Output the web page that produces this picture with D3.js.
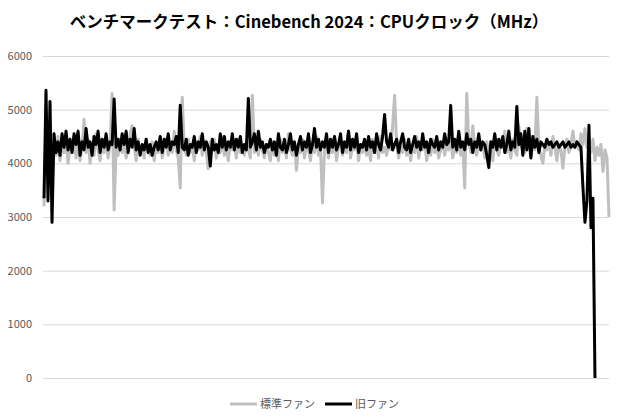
<!DOCTYPE html>
<html>
<head>
<meta charset="utf-8">
<script src="https://cdn.jsdelivr.net/npm/d3@7"></script>
<style>
  body { margin: 0; background: #fff; }
  svg { display: block; }
</style>
</head>
<body>
<svg id="chart" width="620" height="420"></svg>
<script>
// chart values
const title = "ベンチマークテスト：Cinebench 2024：CPUクロック（MHz）";
const seriesNames = ["標準ファン", "旧ファン"];
const seriesColors = ["#bfbfbf", "#000000"];
const yTicks = [0, 1000, 2000, 3000, 4000, 5000, 6000];

// 標準ファン (283 samples)
const standardFan = [
  3200, 4600, 4100, 4400, 4000, 4300, 4150, 4500, 4050, 4350, 4200, 4450, 4000, 4300, 4250, 4500, 4100, 4400, 4050, 4300,
  4820, 4200, 4450, 4000, 4350, 4150, 4550, 4250, 4050, 4400, 4200, 4500, 4100, 4350, 5300, 3130, 4300, 4150, 4450, 4200,
  4400, 4100, 4250, 4550, 4700, 4350, 4050, 4450, 4200, 4300, 4100, 4450, 4250, 4150, 4400, 4050, 4350, 4200, 4500, 4100,
  4300, 4450, 4150, 4350, 4200, 4600, 4250, 4100, 3540, 5230, 4300, 4150, 4450, 4200, 4350, 4050, 4400, 4250, 4500, 4150,
  4350, 4200, 3900, 4400, 4250, 4450, 4100, 4350, 4200, 4500, 4150, 4300, 4050, 4400, 4250, 4350, 4100, 4450, 4200, 4300,
  4150, 4400, 4250, 4100, 5270, 4200, 4350, 4150, 4450, 4250, 4100, 4350, 4200, 4050, 4400, 4150, 4300, 4050, 4450, 4200,
  4350, 4100, 4550, 4250, 4150, 4400, 3870, 4300, 4200, 4450, 4100, 4350, 4250, 4050, 4400, 4200, 4500, 4150, 4300, 3260,
  4250, 4400, 4100, 4350, 4200, 4500, 4050, 4300, 4450, 4150, 4350, 4200, 4600, 4100, 4300, 4250, 4450, 4050, 4350, 4200,
  4400, 4150, 4300, 4050, 4450, 4250, 4350, 4100, 4500, 4200, 4300, 4150, 4400, 4250, 4700, 5270, 4350, 4100, 4300, 4200,
  4450, 4150, 4350, 4050, 4300, 4200, 4500, 4100, 4350, 4250, 4400, 4050, 4300, 4150, 4450, 4200, 4350, 4100, 4250, 4400,
  4150, 4350, 4250, 4500, 4100, 4300, 4200, 4450, 4150, 4350, 3540, 5300, 4400, 4200, 4700, 4300, 4150, 4450, 4250, 4350,
  4100, 4400, 4200, 4350, 4050, 4450, 4250, 4150, 4400, 4300, 4600, 4200, 4350, 4100, 4450, 4250, 4150, 4700, 4300, 4450,
  4200, 4650, 4350, 4100, 4400, 4250, 5230, 4300, 4150, 4000, 4350, 4250, 4400, 4150, 4500, 4300, 4050, 4350, 4250, 3910,
  4300, 4450, 4200, 4350, 4600, 4300, 4400, 4250, 4550, 4350, 4650, 4300, 4500, 4200, 4450, 4050, 4300, 4150, 4350, 3850,
  4250, 4100, 3000
];

// 旧ファン (276 samples, last one falls to 0)
const oldFan = [
  3350, 5360, 3300, 5150, 2900, 4550, 4200, 4400, 4150, 4550, 4300, 4600, 4250, 4450, 4200, 4550, 4350, 4600, 4150, 4400,
  4250, 4650, 4300, 4400, 4150, 4500, 4350, 4600, 4200, 4450, 4300, 4550, 4250, 4400, 4350, 5200, 4300, 4450, 4250, 4550,
  4350, 4600, 4200, 4450, 4300, 4650, 4250, 4400, 4150, 4350, 4250, 4450, 4200, 4350, 4150, 4300, 4400, 4250, 4500, 4200,
  4450, 4300, 4550, 4250, 4400, 4350, 4500, 4200, 5080, 4300, 4250, 4450, 4150, 4350, 4300, 4500, 4200, 4400, 4300, 4550,
  4250, 4400, 4300, 3950, 4450, 4250, 4350, 4200, 4550, 4300, 4500, 4250, 4400, 4300, 4550, 4250, 4450, 4300, 4500, 4200,
  4350, 4250, 5210, 4300, 4400, 4550, 4250, 4600, 4300, 4400, 4200, 4350, 4300, 4450, 4250, 4400, 4150, 4550, 4300, 4250,
  4450, 4200, 4350, 4550, 4250, 4400, 4150, 4350, 4500, 4250, 4400, 4300, 4550, 4200, 4350, 4650, 4300, 4450, 4250, 4400,
  4300, 4550, 4200, 4450, 4300, 4500, 4250, 4350, 4550, 4200, 4400, 4300, 4600, 4250, 4450, 4300, 4550, 4200, 4350, 4300,
  4450, 4250, 4500, 4300, 4400, 4200, 4550, 4350, 4250, 4500, 4910, 4400, 4300, 4550, 4250, 4350, 4450, 4200, 4400, 4550,
  4300, 4250, 4450, 4200, 4350, 4500, 4300, 4400, 4250, 4550, 4300, 4400, 4200, 4450, 4350, 4300, 4500, 4250, 4400, 4300,
  4550, 4350, 4400, 5080, 4300, 4450, 4250, 4600, 4300, 4400, 4250, 4550, 4350, 4450, 4200, 4400, 4300, 4550, 4250, 4400,
  4350, 4150, 3920, 4400, 4300, 4550, 4250, 4450, 4300, 4500, 4200, 4350, 4600, 4250, 4400, 4300, 5060, 4350, 4550, 4150,
  4600, 4250, 4650, 4100, 4500, 4300, 4450, 4200, 4400, 4350, 4300, 4450, 4350, 4400, 4300, 4350, 4400, 4300, 4350, 4400,
  4300, 4350, 4400, 4300, 4350, 4300, 4400, 4350, 4300, 3550, 2900, 3300, 4710, 2800, 3350, 0
];

const font = "'Noto Sans CJK JP', 'Noto Sans', sans-serif";
const textColor = "#595959";
const svg = d3.select("#chart");

const plotLeft = 43, plotRight = 609;
const n = standardFan.length;

const x = d3.scaleLinear()
  .domain([0, n - 1])
  .range([plotLeft + 1, plotRight]);
const y = d3.scaleLinear()
  .domain([0, 6000])
  .range([378, 56]);

// title
svg.append("text")
  .attr("x", 309)
  .attr("y", 28)
  .text(title)
  .style("text-anchor", "middle")
  .style("font-size", 16.5)
  .style("font-weight", "bold")
  .style("font-family", font)
  .style("fill", "#000");

// gridlines + y labels
const yAxis = svg.append("g")
  .attr("transform", "translate(" + plotLeft + ",0)")
  .call(d3.axisLeft(y).tickValues(yTicks).tickSize(-(plotRight - plotLeft)).tickPadding(11).tickFormat(d3.format("d")))
  .call(g => g.select(".domain").remove());
yAxis.selectAll(".tick line")
  .style("stroke", "#d9d9d9")
  .style("stroke-width", 1);
yAxis.selectAll(".tick text")
  .style("font-size", 11)
  .style("font-family", font)
  .style("fill", textColor);

// series lines
const line = d3.line()
  .x((d, i) => x(i))
  .y(d => y(d));

[standardFan, oldFan].forEach((data, k) => {
  svg.append("path")
    .datum(data)
    .attr("d", line)
    .style("fill", "none")
    .style("stroke", seriesColors[k])
    .style("stroke-width", 3)
    .style("stroke-linejoin", "round");
});

// legend
const legendX = [230, 325];
seriesNames.forEach((name, k) => {
  svg.append("line")
    .attr("x1", legendX[k])
    .attr("x2", legendX[k] + 27)
    .attr("y1", 404)
    .attr("y2", 404)
    .style("stroke", seriesColors[k])
    .style("stroke-width", 3);
  svg.append("text")
    .attr("x", legendX[k] + 30)
    .attr("y", 408)
    .text(name)
    .style("font-size", 11)
    .style("font-family", font)
    .style("fill", textColor);
});
</script>
</body>
</html>
